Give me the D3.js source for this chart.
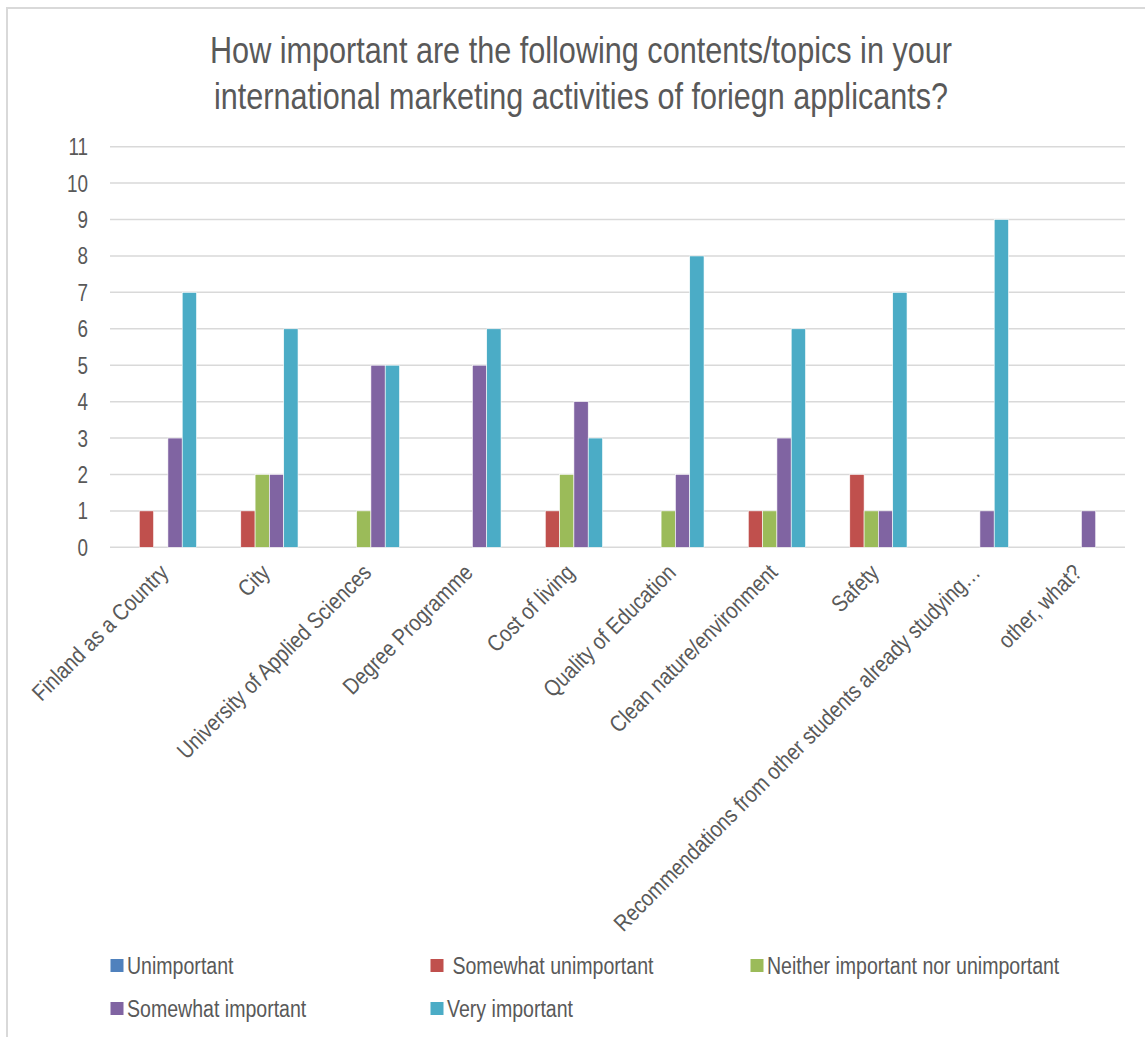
<!DOCTYPE html>
<html>
<head>
<meta charset="utf-8">
<script src="https://cdn.jsdelivr.net/npm/d3@7"></script>
<style>
  body { margin: 0; background: #fff; }
  text { font-family: "Liberation Sans Narrow", "Arial Narrow", "Liberation Sans", Arial, sans-serif; fill: #595959; white-space: pre; }
</style>
</head>
<body>
<div id="chart"></div>
<script>
const categories = ['Finland as a Country', 'City', 'University of Applied Sciences', 'Degree Programme',
    'Cost of living', 'Quality of Education', 'Clean nature/environment', 'Safety',
    'Recommendations from other students already studying…', 'other, what?'];
const seriesNames = ['Unimportant', ' Somewhat unimportant', 'Neither important nor unimportant', 'Somewhat important', 'Very important'];
const unimportant = [0, 0, 0, 0, 0, 0, 0, 0, 0, 0];
const somewhatUnimportant = [1, 1, 0, 0, 1, 0, 1, 2, 0, 0];
const neither = [0, 2, 1, 0, 2, 1, 1, 1, 0, 0];
const somewhatImportant = [3, 2, 5, 5, 4, 2, 3, 1, 1, 1];
const veryImportant = [7, 6, 5, 6, 3, 8, 6, 7, 9, 0];
const yTicks = [0, 1, 2, 3, 4, 5, 6, 7, 8, 9, 10, 11];
const colors = ['#4F81BD', '#C0504D', '#9BBB59', '#8064A2', '#4BACC6'];

drawChart();

// squeeze text horizontally to look like a narrow face
function narrow(sel, ratio) {
    sel.each(function() {
        let len = this.getComputedTextLength();
        d3.select(this).attr('textLength', len * ratio).attr('lengthAdjust', 'spacingAndGlyphs');
    });
}

function drawChart() {
    const W = 1145, H = 1037;
    const svg = d3.select('#chart').append('svg').attr('width', W).attr('height', H);
    const series = [unimportant, somewhatUnimportant, neither, somewhatImportant, veryImportant];

    // chart frame (only top and left show)
    svg.append('rect').attr('x', 7).attr('y', 8).attr('width', 1160).attr('height', 1060)
        .attr('fill', 'none').attr('stroke', '#d9d9d9').attr('stroke-width', 2);

    // title
    const t1 = svg.append('text').attr('text-anchor', 'middle').style('font-size', '36px')
        .attr('x', 581).attr('y', 63).text('How important are the following contents/topics in your');
    const t2 = svg.append('text').attr('text-anchor', 'middle').style('font-size', '36px')
        .attr('x', 581).attr('y', 109).text('international marketing activities of foriegn applicants?');
    t1.attr('textLength', 742).attr('lengthAdjust', 'spacingAndGlyphs');
    t2.attr('textLength', 734).attr('lengthAdjust', 'spacingAndGlyphs');

    const left = 110, right = 1125, top = 146.7, bottom = 547.3;
    let x = d3.scaleBand().domain(categories).range([left, right]).paddingInner(0).paddingOuter(0);
    let y = d3.scaleLinear().domain([0, 11]).range([bottom, top]);
    let x1 = d3.scaleBand().domain(d3.range(5)).range([0, x.bandwidth() * 0.705]);
    const groupOffset = (x.bandwidth() - x.bandwidth() * 0.705) / 2;

    // gridlines
    svg.append('g').selectAll('line').data(yTicks).enter().append('line')
        .attr('x1', left).attr('x2', right)
        .attr('y1', d => y(d)).attr('y2', d => y(d))
        .attr('stroke', '#d9d9d9').attr('stroke-width', 1.5);

    // y labels
    svg.append('g').selectAll('text').data(yTicks).enter().append('text')
        .attr('x', 88).attr('y', d => y(d) + 8.5)
        .attr('text-anchor', 'end').style('font-size', '23px')
        .text(d => d)
        .call(narrow, 0.82);

    // bars
    let groups = svg.append('g').selectAll('g').data(categories).enter().append('g')
        .attr('transform', d => 'translate(' + (x(d) + groupOffset) + ',0)');
    groups.selectAll('rect').data(function(d, i) {
        return series.map((s, k) => ({k: k, v: s[i]}));
    }).enter().filter(d => d.v > 0).append('rect')
        .attr('x', d => x1(d.k))
        .attr('width', x1.bandwidth())
        .attr('y', d => y(d.v))
        .attr('height', d => y(0) - y(d.v))
        .attr('fill', d => colors[d.k])
        .attr('stroke', '#ffffff').attr('stroke-width', 0.6);

    // x labels, rotated
    svg.append('g').selectAll('text').data(categories).enter().append('text')
        .attr('text-anchor', 'end').style('font-size', '23px')
        .attr('transform', d => 'translate(' + (x(d) + x.bandwidth() / 2 + 9) + ',' + 574 + ') rotate(-45)')
        .text(d => d)
        .call(narrow, 0.855);

    // legend
    const legendPos = [[117, 965.5], [437, 965.5], [757, 965.5], [117, 1008.5], [437, 1008.5]];
    let lg = svg.append('g').selectAll('g').data(seriesNames).enter().append('g')
        .attr('transform', (d, i) => 'translate(' + legendPos[i][0] + ',' + legendPos[i][1] + ')');
    lg.append('rect').attr('x', -6.5).attr('y', -6.5).attr('width', 13).attr('height', 13)
        .attr('fill', (d, i) => colors[i]);
    lg.append('text').attr('x', 10).attr('y', 8).style('font-size', '23px').text(d => d)
        .call(narrow, 0.85);
}
</script>
</body>
</html>
